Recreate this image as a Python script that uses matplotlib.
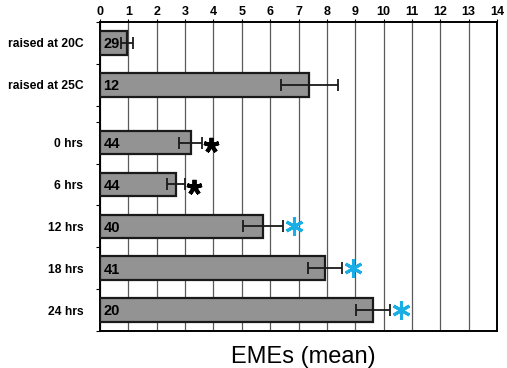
import matplotlib.pyplot as plt
import numpy as np

plt.rcParams["font.family"] = ["Liberation Sans", "DejaVu Sans"]

categories = ["raised at 20C", "raised at 25C", "0 hrs", "6 hrs", "12 hrs", "18 hrs", "24 hrs"]
means = [0.95, 7.38, 3.2, 2.68, 5.75, 7.95, 9.64]
errors = [0.2, 1.0, 0.4, 0.3, 0.7, 0.6, 0.6]
counts = ["29", "12", "44", "44", "40", "41", "20"]
# significance marks: None, black or blue asterisk
marks = [None, None, "black", "black", "blue", "blue", "blue"]

# row layout: two rows, a narrow gap, then five rows
gap = 0.38
ypos = np.array([0.5, 1.5] + [2.5 + gap + i for i in range(5)])
boundaries = [0, 1, 2, 2 + gap] + [3 + gap + i for i in range(5)]

fig = plt.figure(figsize=(5.07, 3.68), dpi=100)
ax = fig.add_axes([100 / 507, 1 - 331 / 368, 397 / 507, 309 / 368])

ax.set_xlim(0, 14)
ax.set_ylim(boundaries[-1], 0)
ax.set_xticks(range(15))
ax.xaxis.tick_top()
ax.tick_params(axis="x", which="major", length=2, pad=1, labelsize=9)
for lab in ax.get_xticklabels():
    lab.set_fontweight("bold")
ax.grid(axis="x", color="#5a5a5a", linewidth=0.9)
ax.set_axisbelow(True)

ax.set_yticks(ypos)
ax.set_yticklabels(categories, fontsize=8.7, fontweight="bold")
ax.tick_params(axis="y", which="major", length=0, pad=12)
ax.set_yticks(boundaries, minor=True)
ax.tick_params(axis="y", which="minor", length=3, width=0.8)

for sp in ax.spines.values():
    sp.set_linewidth(1.4)
    sp.set_color("black")

ax.barh(ypos, means, height=0.56, color="#939393", edgecolor="#1a1a1a", linewidth=1.6, zorder=3)
ax.errorbar(means, ypos, xerr=errors, fmt="none", ecolor="#1a1a1a", elinewidth=1.3,
            capsize=4, capthick=1.3, zorder=4)

for y, c in zip(ypos, counts):
    ax.annotate(c, (0, y), xytext=(2.5, -1), textcoords="offset points",
                ha="left", va="center", fontsize=10.5, fontweight="bold", zorder=5)

for y, m, e, mk in zip(ypos, means, errors, marks):
    if mk == "black":
        ax.plot(m + e + 0.33, y + 0.06, marker=(5, 2, 0), markersize=11,
                markeredgewidth=2.8, color="black", zorder=5)
    elif mk == "blue":
        ax.plot(m + e + 0.38, y, marker=(6, 2, 0), markersize=13,
                markeredgewidth=2.2, color="#19aee6", zorder=5)

fig.text(303 / 507, 1 - 357 / 368, "EMEs (mean)", fontsize=17, ha="center", va="center")

fig.savefig("out.png", dpi=100)
